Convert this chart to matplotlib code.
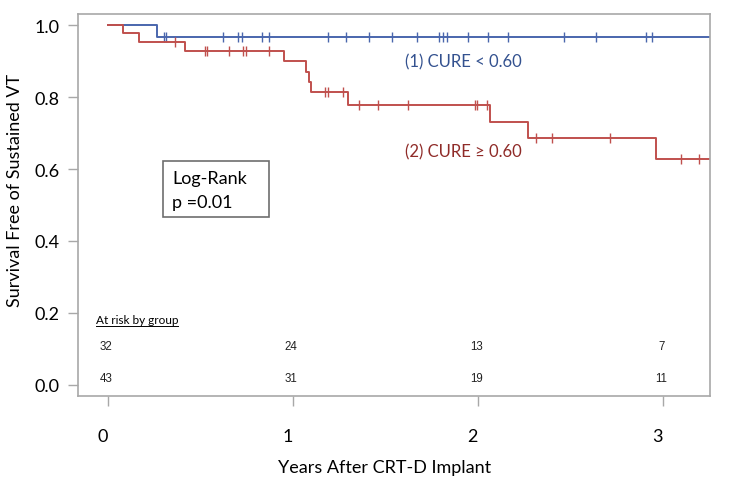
import numpy as np
import matplotlib
matplotlib.use("Agg")
import matplotlib.pyplot as plt
from matplotlib.transforms import ScaledTranslation
from matplotlib.lines import Line2D
from matplotlib.patches import Rectangle

# Kaplan-Meier steps (years, survival after the drop)
grp1_times = [0.0, 0.265]
grp1_surv = [1.0, 0.968]
grp1_censor = [0.305, 0.312, 0.62, 0.701, 0.726, 0.831, 0.868, 1.191, 1.285,
               1.411, 1.533, 1.672, 1.791, 1.812, 1.831, 1.944, 2.052, 2.161,
               2.466, 2.638, 2.906, 2.938]

grp2_times = [0.0, 0.081, 0.168, 0.416, 0.951, 1.069, 1.085, 1.095, 1.297,
              2.065, 2.272, 2.962]
grp2_surv = [1.0, 0.977, 0.952, 0.929, 0.899, 0.871, 0.842, 0.813, 0.778,
             0.732, 0.685, 0.628]
grp2_censor = [0.362, 0.527, 0.535, 0.654, 0.731, 0.744, 0.868, 1.173, 1.188,
               1.272, 1.355, 1.458, 1.623, 1.984, 1.996, 2.05, 2.314, 2.398,
               2.714, 3.097, 3.195]

followup_end = 3.26

risk_times = [0, 1, 2, 3]
risk_grp1 = [32, 24, 13, 7]
risk_grp2 = [43, 31, 19, 11]

blue = '#4a66ad'
red = '#c0504d'
frame_col = '#a8a8a8'


def surv_at(times, surv, t):
    i = np.searchsorted(times, t, side='right') - 1
    return np.array(surv)[i]


fig = plt.figure(figsize=(7.29, 4.89), dpi=100)
ax = fig.add_axes([78/729, 1-397/489, (710-78)/729, (397-15)/489])

for times, surv, cens, col in [(grp1_times, grp1_surv, grp1_censor, blue),
                               (grp2_times, grp2_surv, grp2_censor, red)]:
    xs = list(times) + [followup_end]
    ys = list(surv) + [surv[-1]]
    ax.step(xs, ys, where='post', color=col, lw=1.4)
    cens = np.array(cens)
    ax.plot(cens, surv_at(times, surv, cens), ls='none', marker='|',
            ms=7, mew=1.0, color=col)

ax.set_xlim(-0.162, 3.254)
ax.set_ylim(-0.031, 1.031)
ax.set_xticks([0, 1, 2, 3])
ax.set_yticks([0.0, 0.2, 0.4, 0.6, 0.8, 1.0])
ax.set_yticklabels(['0.0', '0.2', '0.4', '0.6', '0.8', '1.0'])
for s in ax.spines.values():
    s.set_color(frame_col)
    s.set_linewidth(1.2)
ax.tick_params(axis='both', colors=frame_col, length=7, width=1.0,
               labelcolor='black', labelsize=13)
ax.tick_params(axis='x', pad=16)
ax.tick_params(axis='y', pad=6)
for lab in ax.get_xticklabels() + ax.get_yticklabels():
    lab.set_fontfamily('Lato')
for lab in ax.get_xticklabels():
    lab.set_transform(lab.get_transform() + ScaledTranslation(-4/72, 0, fig.dpi_scale_trans))

# group labels
ax.text(1.605, 0.900, '(1) CURE < 0.60', color='#33518f', fontsize=12,
        family='Lato', va='center')
ax.text(1.605, 0.648, '(2) CURE \u2265 0.60', color='#8f2b28', fontsize=12,
        family=['Lato', 'DejaVu Sans'], va='center')

# log-rank box
ax.add_patch(Rectangle((0.1345, 0.4686), 0.1675, 0.1464, transform=ax.transAxes,
                       fc='white', ec='#6e6e6e', lw=1.2, zorder=3))
ax.text(0.149, (397-179)/382, 'Log-Rank', fontsize=13, family='Lato',
        va='center', ha='left', transform=ax.transAxes, zorder=4)
ax.text(0.149, (397-203)/382, 'p =0.01', fontsize=13, family='Lato',
        va='center', ha='left', transform=ax.transAxes, zorder=4)

# risk table
hdr = ax.text(-0.065, 0.183, 'At risk by group', fontsize=8.5, family='Lato',
              va='center', ha='left')
for t, n1, n2 in zip(risk_times, risk_grp1, risk_grp2):
    ax.text(t - 0.01, 0.108, str(n1), fontsize=8.3, family='Liberation Sans',
            ha='center', va='center', color='#222222')
    ax.text(t - 0.01, 0.019, str(n2), fontsize=8.3, family='Liberation Sans',
            ha='center', va='center', color='#222222')

fig.text(15/729, 1-190/489, 'Survival Free of Sustained VT', rotation=90,
         fontsize=13, family='Lato', ha='center', va='center')
fig.text(385/729, 1-468/489, 'Years After CRT-D Implant', fontsize=13,
         family='Lato', ha='center', va='center')

# underline the header of the risk table
fig.canvas.draw()
bb = hdr.get_window_extent()
fig.add_artist(Line2D([bb.x0, bb.x1], [bb.y0 - 1, bb.y0 - 1], color='black',
                      lw=0.7, transform=None))

fig.savefig('out.png', dpi=100)
